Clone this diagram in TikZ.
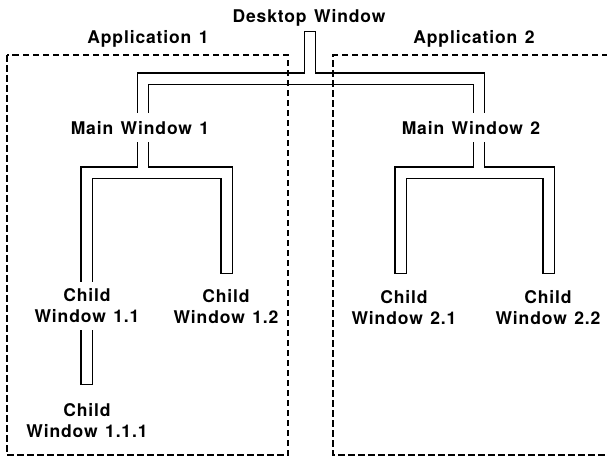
\documentclass[tikz,border=0pt]{standalone}
\usepackage{fontspec}
\newfontfamily\labfont[LetterSpace=5,WordSpace=1.3]{TeX Gyre Heros}
\usetikzlibrary{backgrounds}
\begin{document}
\begin{tikzpicture}[x=1pt,y=-1pt,
  lab/.style={font=\labfont\bfseries\fontsize{17.5}{21}\selectfont,
    inner xsep=2pt, inner ysep=7pt, fill=white, align=center},
  pipeout/.style={line width=12.6pt, line cap=rect, line join=miter, draw=black},
  pipein/.style={line width=10pt, line cap=rect, line join=miter, draw=white},
  appbox/.style={draw=black, line width=1.1pt, dash pattern=on 6.5pt off 3.5pt}]
\useasboundingbox (0,0) rectangle (607,459);

% labels
\node[lab, anchor=base, inner ysep=3pt] (desk) at (309,22.7) {Desktop Window};
\node[lab, anchor=base, inner ysep=3pt] (app1) at (148,43) {Application 1};
\node[lab, anchor=base, inner ysep=3pt] (app2) at (474,43) {Application 2};
\node[lab, anchor=base, inner ysep=8pt] (main1) at (140,134) {Main Window 1};
\node[lab, anchor=base, inner ysep=8pt] (main2) at (471,134) {Main Window 2};
\node[lab, anchor=north] (c11) at (87,281.6) {Child\\Window 1.1};
\node[lab, anchor=north] (c12) at (226,282.6) {Child\\Window 1.2};
\node[lab, anchor=north] (c21) at (404,283) {Child\\Window 2.1};
\node[lab, anchor=north] (c22) at (548,283) {Child\\Window 2.2};
\node[lab, anchor=north] (c111) at (87,396.6) {Child\\Window 1.1.1};

% pipe coordinates
\coordinate (dt) at (310,37.3);
\coordinate (j0) at (310,78.5);
\coordinate (l0) at (143,78.5);
\coordinate (r0) at (479,78.5);
\coordinate (l1) at (143,172.5);
\coordinate (r1) at (479,172.5);
\coordinate (a) at (86.5,172.5);
\coordinate (b) at (226.5,172.5);
\coordinate (e111) at (86.5,378.7);
\coordinate (e12) at (226.5,267.7);
\coordinate (c) at (400.5,172.5);
\coordinate (d) at (548.5,172.5);
\coordinate (e21) at (400.5,267.7);
\coordinate (e22) at (548.5,267.7);

\begin{scope}[on background layer]
  \foreach \st in {pipeout,pipein}{
    \draw[\st] (dt) -- (j0);
    \draw[\st] (l1) -- (l0) -- (r0) -- (r1);
    \draw[\st] (e111) -- (a) -- (b) -- (e12);
    \draw[\st] (e21) -- (c) -- (d) -- (e22);
  }
  \draw[appbox] (7,55) rectangle (288,455);
  \draw[appbox] (608,55) -- (333,55) -- (333,455) -- (608,455);
\end{scope}
\end{tikzpicture}
\end{document}
